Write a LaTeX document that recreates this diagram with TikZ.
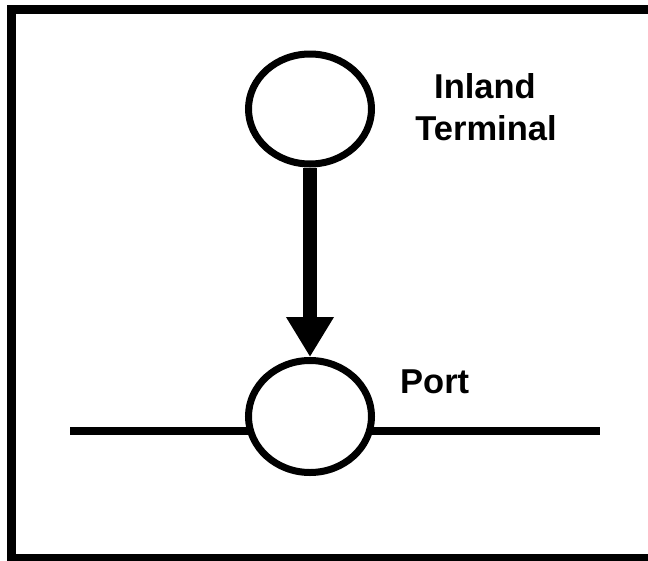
\documentclass[tikz,border=0pt]{standalone}
\usepackage{fontspec}
\setmainfont{Liberation Sans}
\usetikzlibrary{shapes.geometric,arrows.meta}
\begin{document}
\begin{tikzpicture}[x=1pt,y=-1pt,
  site/.style={draw,ellipse,line width=7pt,fill=white,inner sep=0pt,
    minimum width=123pt},
  lbl/.style={font=\bfseries\fontsize{34.5}{42}\selectfont,inner sep=0pt,anchor=base},
  route/.style={line width=14pt,-{Triangle[width=45pt,length=40pt]}},
  shore/.style={line width=8pt}]
  \useasboundingbox (0,0) rectangle (648,560);
  % frame
  \draw[line width=9pt] (11.5,9.5) rectangle (652.5,558.5);
  % coastline through the port
  \coordinate (wl) at (70,431);
  \coordinate (wr) at (600,431);
  \draw[shore] (wl) -- (wr);
  % sites
  \node[site,minimum height=110pt] (inland) at (310,109) {};
  \node[site,minimum height=112pt] (port) at (310,416.5) {};
  % labels
  \node[lbl] (tlabel1) at (485,98) {Inland};
  \node[lbl] (tlabel2) at (486,140) {Terminal};
  \node[lbl,anchor=base west] (plabel) at (400,393) {Port};
  % movement from the inland terminal to the port
  \draw[route] (inland.south) -- (port.north);
\end{tikzpicture}
\end{document}
